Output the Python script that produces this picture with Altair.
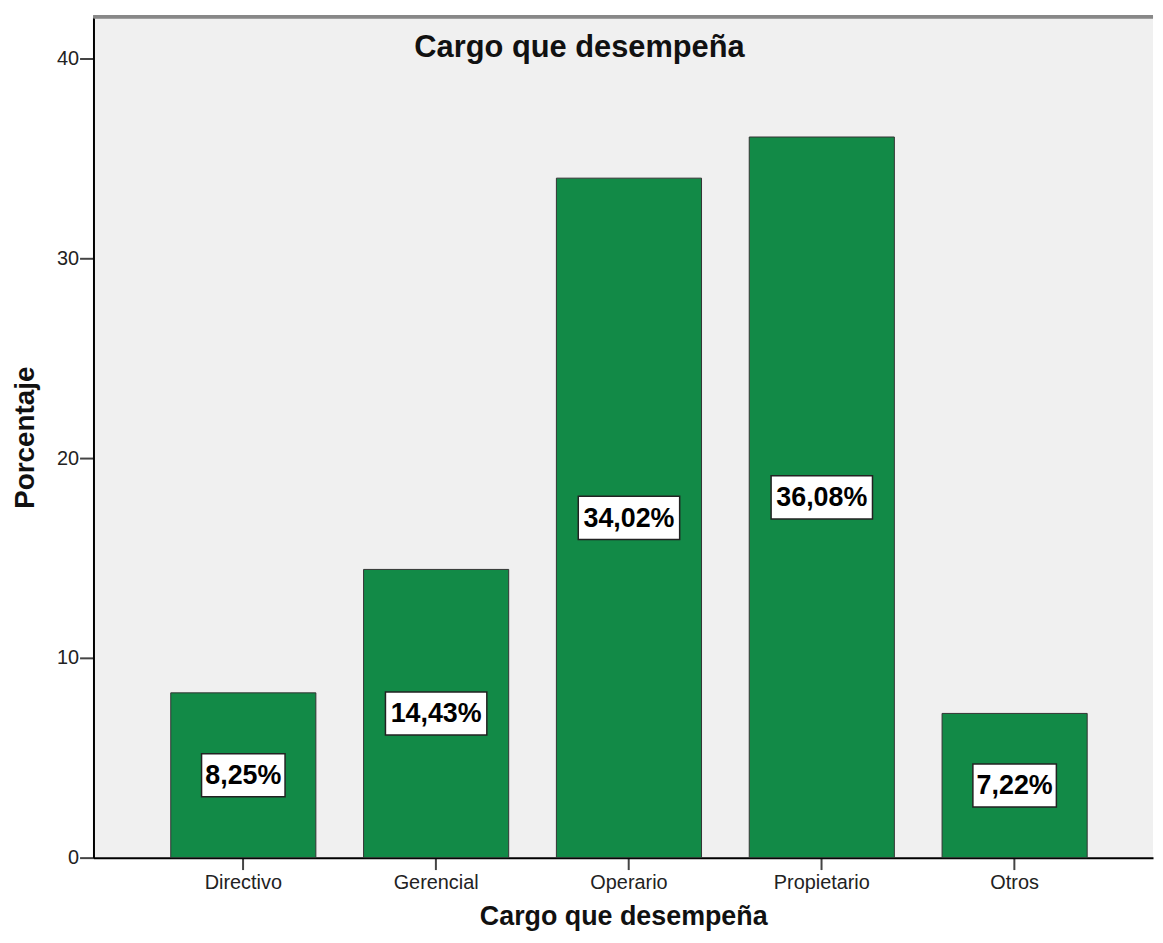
import altair as alt
import pandas as pd

categories = ["Directivo", "Gerencial", "Operario", "Propietario", "Otros"]
percentages = [8.25, 14.43, 34.02, 36.08, 7.22]
labels = ["8,25%", "14,43%", "34,02%", "36,08%", "7,22%"]
y_ticks = [0, 10, 20, 30, 40]
y_max = 42.1

df = pd.DataFrame({"cargo": categories, "pct": percentages, "label": labels})

FONT = "Liberation Sans"

x_enc = alt.X(
    "cargo:N",
    sort=categories,
    scale=alt.Scale(paddingInner=0.2474, paddingOuter=0.371, align=0.54),
    axis=alt.Axis(
        title="Cargo que desempeña",
        labelAngle=0,
        labelFont=FONT,
        labelFontSize=20,
        labelColor="#222222",
        labelPadding=3,
        tickColor="#444444",
        tickSize=12,
        tickWidth=2,
        domainColor="#000000",
        domainWidth=2,
        titleFont=FONT,
        titleFontSize=27,
        titleFontWeight="bold",
        titleColor="#111111",
        titlePadding=11,
    ),
)

y_scale = alt.Scale(domain=[0, y_max], nice=False)

bars = alt.Chart(df).mark_bar(
    color="#128a47", stroke="#333333", strokeWidth=1
).encode(
    x=x_enc,
    y=alt.Y(
        "pct:Q",
        scale=y_scale,
        axis=alt.Axis(
            title="Porcentaje",
            values=y_ticks,
            grid=False,
            labelFont=FONT,
            labelFontSize=20,
            labelColor="#222222",
            labelPadding=1,
            tickColor="#444444",
            tickSize=14,
            tickWidth=2,
            domainColor="#000000",
            domainWidth=2,
            titleFont=FONT,
            titleFontSize=28,
            titleFontWeight="bold",
            titleColor="#111111",
            titlePadding=17,
        ),
    ),
)

base_lab = alt.Chart(df).transform_calculate(
    mid="datum.pct / 2",
    lo="datum.pct / 2 - 1.08",
    hi="datum.pct / 2 + 1.08",
    n="length(datum.label)",
)

box_short = base_lab.transform_filter("datum.n <= 5").mark_bar(
    width=84, color="white", stroke="#222222", strokeWidth=1.5
).encode(
    x=alt.X("cargo:N", sort=categories),
    y=alt.Y("lo:Q"),
    y2="hi:Q",
)

box_long = base_lab.transform_filter("datum.n > 5").mark_bar(
    width=102, color="white", stroke="#222222", strokeWidth=1.5
).encode(
    x=alt.X("cargo:N", sort=categories),
    y=alt.Y("lo:Q"),
    y2="hi:Q",
)

texts = base_lab.mark_text(
    font=FONT, fontSize=27, fontWeight="bold", color="#000000", baseline="middle", dy=1
).encode(
    x=alt.X("cargo:N", sort=categories),
    y=alt.Y("mid:Q"),
    text="label:N",
)

top_border = alt.Chart(df).mark_rule(color="#888888", strokeWidth=3).encode(
    y=alt.Y(datum=y_max),
)

chart = alt.layer(bars, box_short, box_long, texts, top_border).properties(
    width=1066,
    height=846,
    padding={"left": 3, "top": 4, "right": 0, "bottom": 0},
    title=alt.TitleParams(
        text="Cargo que desempeña",
        font=FONT,
        fontSize=31,
        fontWeight="bold",
        color="#111111",
        anchor="middle",
        orient="top",
        offset=-49,
        dx=-44,
    ),
).configure_view(
    fill="#f0f0f0", stroke=None
)

chart.save("out.html", embed_options={"renderer": "svg", "actions": False})
